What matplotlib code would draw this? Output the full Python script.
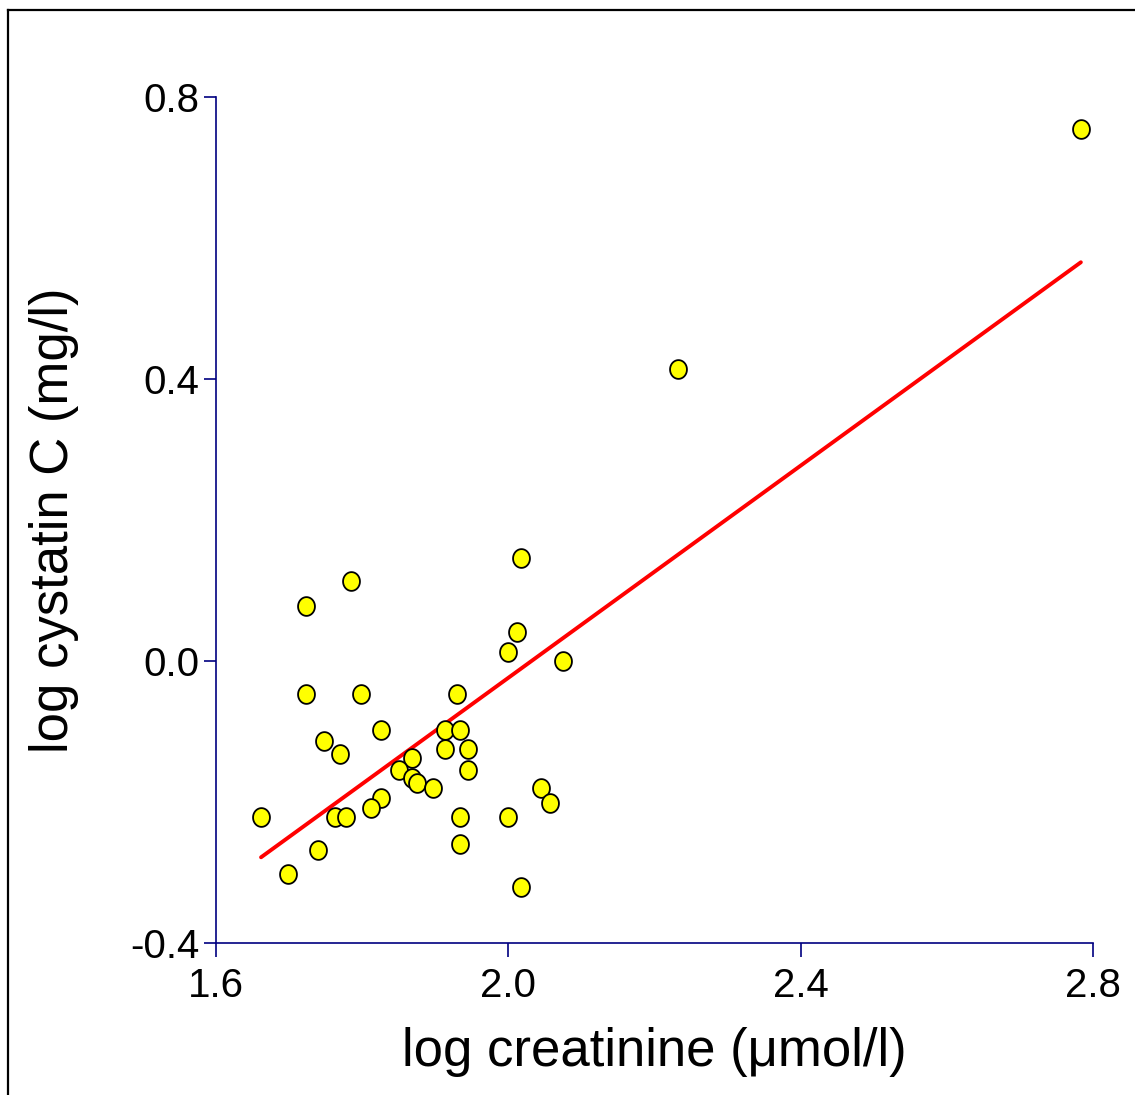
import numpy as np
import matplotlib
matplotlib.use("Agg")
import matplotlib.pyplot as plt
from matplotlib.path import Path
from matplotlib.lines import Line2D

plt.rcParams['font.family'] = ['Liberation Sans', 'DejaVu Sans']
plt.rcParams['axes.unicode_minus'] = False

# Data
log_creatinine = [2.017, 1.785, 1.724, 2.012, 1.999, 2.075, 1.724, 1.799, 1.930,
                  1.826, 1.914, 1.934, 1.748, 1.770, 1.914, 1.945, 1.869, 1.851,
                  1.945, 1.868, 1.875, 1.897, 2.045, 2.057, 1.826, 1.812, 1.662,
                  1.763, 1.778, 1.934, 1.999, 1.740, 1.934, 1.699, 2.017, 2.232,
                  2.783]
log_cystatin = [0.146, 0.114, 0.079, 0.041, 0.013, 0.000, -0.046, -0.046, -0.046,
                -0.097, -0.097, -0.097, -0.113, -0.131, -0.125, -0.125, -0.137, -0.154,
                -0.154, -0.166, -0.173, -0.180, -0.180, -0.201, -0.194, -0.208, -0.221,
                -0.221, -0.221, -0.221, -0.221, -0.267, -0.259, -0.301, -0.320, 0.415,
                0.755]
fit_x = [1.662, 2.783]
fit_y = [-0.278, 0.566]

x_ticks = [1.6, 2.0, 2.4, 2.8]
x_tick_labels = ['1.6', '2.0', '2.4', '2.8']
y_ticks = [-0.4, 0.0, 0.4, 0.8]
y_tick_labels = ['-0.4', '0.0', '0.4', '0.8']

W, H = 1135, 1095
fig = plt.figure(figsize=(W / 100, H / 100), dpi=100)
ax = fig.add_axes([215.7 / W, 1 - 943.3 / H, (1093.3 - 215.7) / W, (943.3 - 97.3) / H])

# elliptical marker (slightly taller than wide)
t = np.linspace(0, 2 * np.pi, 60)
ell = Path(np.column_stack([0.9 * np.cos(t), np.sin(t)]), closed=True)

ax.plot(fit_x, fit_y, color='#ff0000', lw=2.8, solid_capstyle='round', zorder=2)
ax.plot(log_creatinine, log_cystatin, linestyle='none', marker=ell, markersize=13.5,
        markerfacecolor='#ffff00', markeredgecolor='black', markeredgewidth=1.3,
        zorder=3, clip_on=False)

ax.set_xlim(1.6, 2.8)
ax.set_ylim(-0.4, 0.8)
ax.set_xticks(x_ticks)
ax.set_xticklabels(x_tick_labels)
ax.set_yticks(y_ticks)
ax.set_yticklabels(y_tick_labels)

navy = '#000080'
for s in ['top', 'right']:
    ax.spines[s].set_visible(False)
for s in ['left', 'bottom']:
    ax.spines[s].set_color(navy)
    ax.spines[s].set_linewidth(1.2)
ax.tick_params(axis='both', direction='out', colors=navy, labelcolor='black',
               labelsize=29, width=1.2)
ax.tick_params(axis='x', length=10, pad=7)
ax.tick_params(axis='y', length=9, pad=2.5)

ax.set_xlabel('log creatinine (μmol/l)', fontsize=38, labelpad=16)
ax.set_ylabel('log cystatin C (mg/l)', fontsize=38, labelpad=37)

# outer frame (top and left edges visible)
fig.add_artist(Line2D([8 / W, 1.0], [1 - 10 / H, 1 - 10 / H], color='black', lw=1.6,
                      transform=fig.transFigure))
fig.add_artist(Line2D([8 / W, 8 / W], [0.0, 1 - 10 / H], color='black', lw=1.6,
                      transform=fig.transFigure))

fig.savefig('out.png', dpi=100)
